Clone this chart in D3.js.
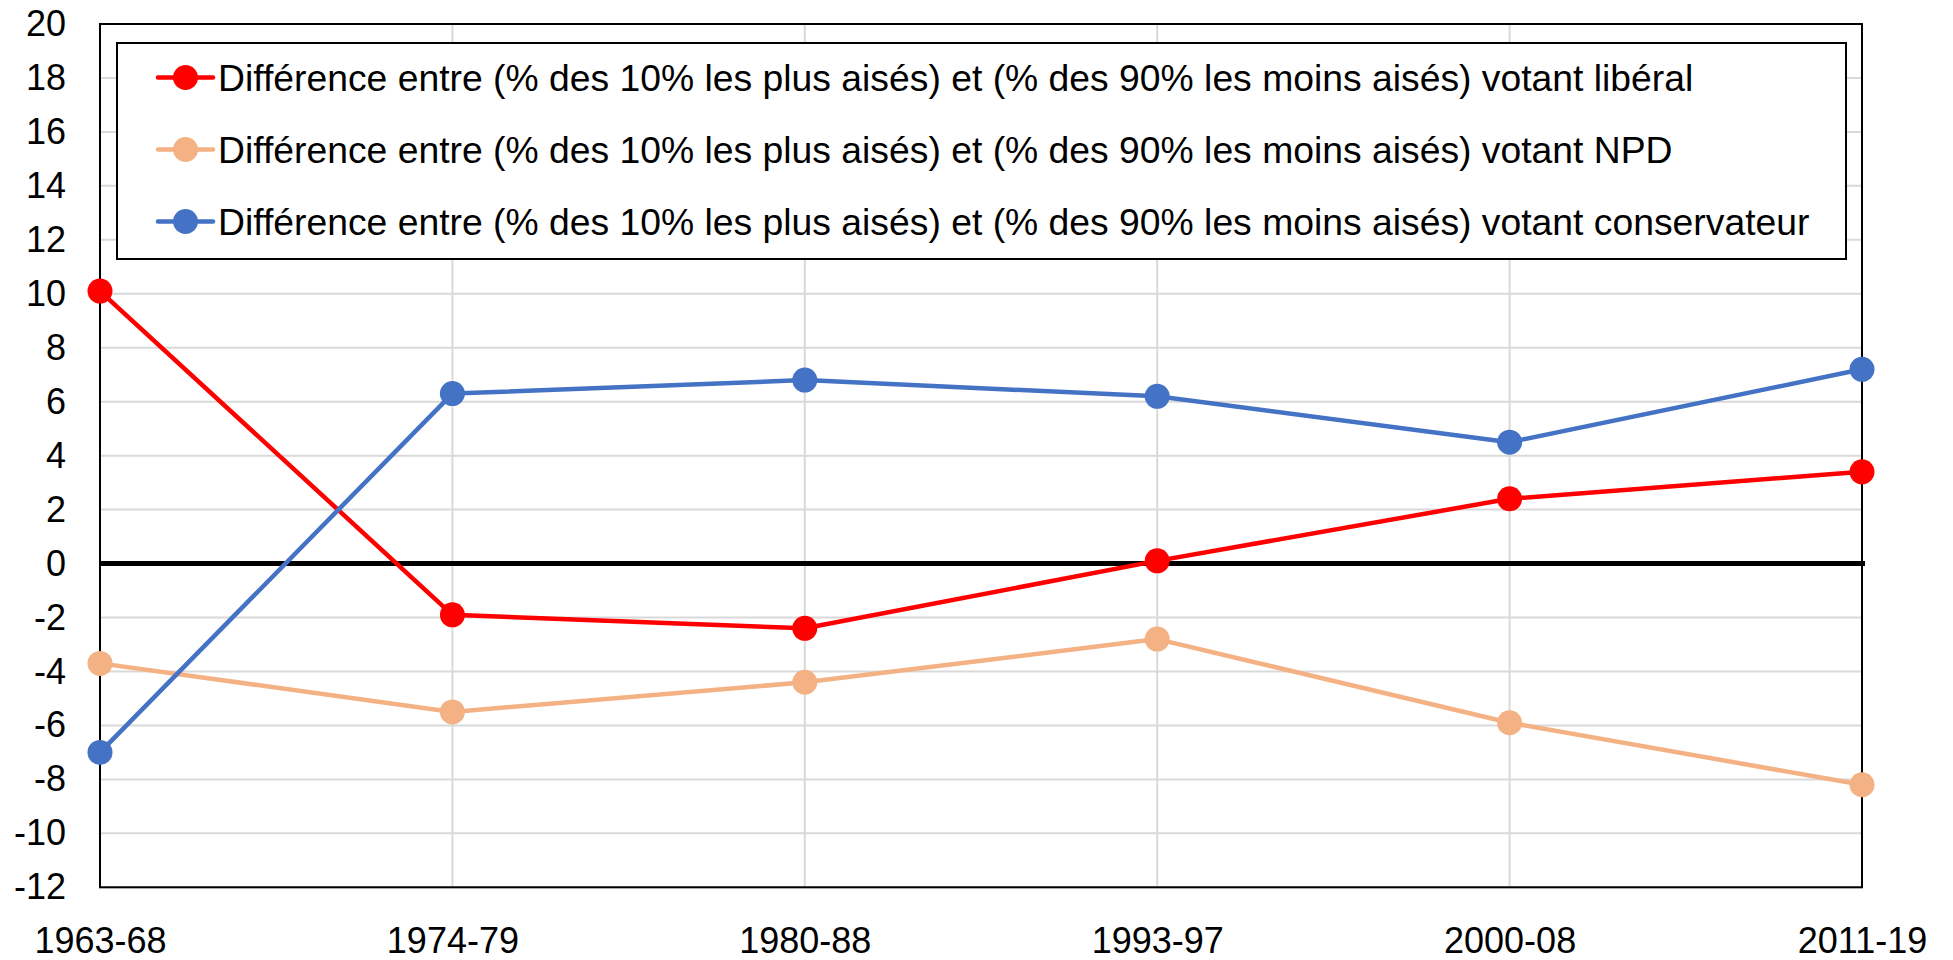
<!DOCTYPE html>
<html>
<head>
<meta charset="utf-8">
<script src="https://cdn.jsdelivr.net/npm/d3@7"></script>
<style>
  html, body { margin: 0; padding: 0; background: #fff; }
  svg { display: block; font-family: Arial, "Liberation Sans", sans-serif; }
</style>
</head>
<body>
<svg id="chart" width="1953" height="960"></svg>
<script>
// ---- data ----
const categories = ["1963-68", "1974-79", "1980-88", "1993-97", "2000-08", "2011-19"];
const liberal = [10.1, -1.9, -2.4, 0.1, 2.4, 3.4];
const npd = [-3.7, -5.5, -4.4, -2.8, -5.9, -8.2];
const conservateur = [-7.0, 6.3, 6.8, 6.2, 4.5, 7.2];
const seriesNames = [
  "Différence entre (% des 10% les plus aisés) et (% des 90% les moins aisés) votant libéral",
  "Différence entre (% des 10% les plus aisés) et (% des 90% les moins aisés) votant NPD",
  "Différence entre (% des 10% les plus aisés) et (% des 90% les moins aisés) votant conservateur"
];
const yTicks = [-12, -10, -8, -6, -4, -2, 0, 2, 4, 6, 8, 10, 12, 14, 16, 18, 20];
const colors = ["#FF0000", "#F4B183", "#4472C4"];

const series = [
  { name: seriesNames[0], values: liberal, color: colors[0] },
  { name: seriesNames[1], values: npd, color: colors[1] },
  { name: seriesNames[2], values: conservateur, color: colors[2] }
];

// ---- layout ----
const plot = { left: 100, right: 1862, top: 24, bottom: 887.3 };
const svg = d3.select("#chart");

const x = d3.scalePoint().domain(categories).range([plot.left, plot.right]).padding(0);
const y = d3.scaleLinear().domain([-12, 20]).range([plot.bottom, plot.top]);

// horizontal gridlines
svg.append("g").selectAll("line").data(yTicks).join("line")
  .attr("x1", plot.left).attr("x2", plot.right)
  .attr("y1", d => y(d)).attr("y2", d => y(d))
  .attr("stroke", "#D9D9D9").attr("stroke-width", 2);

// vertical gridlines
svg.append("g").selectAll("line").data(categories).join("line")
  .attr("x1", d => x(d)).attr("x2", d => x(d))
  .attr("y1", plot.top).attr("y2", plot.bottom)
  .attr("stroke", "#D9D9D9").attr("stroke-width", 2);

// plot frame
svg.append("rect")
  .attr("x", plot.left).attr("y", plot.top)
  .attr("width", plot.right - plot.left).attr("height", plot.bottom - plot.top)
  .attr("fill", "none").attr("stroke", "#000").attr("stroke-width", 2);

// zero line
svg.append("line")
  .attr("x1", plot.left).attr("x2", plot.right + 3)
  .attr("y1", y(0)).attr("y2", y(0))
  .attr("stroke", "#000").attr("stroke-width", 5);

// y axis labels (plain hyphen-minus as in the reference)
const yAxis = d3.axisLeft(y).tickValues(yTicks).tickSize(0).tickPadding(34).tickFormat(d => String(d));
const gy = svg.append("g").attr("transform", `translate(${plot.left},0)`).call(yAxis);
gy.select(".domain").remove();
gy.selectAll("text").attr("font-size", 36).attr("fill", "#000")
  .attr("font-family", "Arial, 'Liberation Sans', sans-serif");

// x axis labels
const xAxis = d3.axisBottom(x).tickSize(0).tickPadding(40);
const gx = svg.append("g").attr("transform", `translate(0,${plot.bottom})`).call(xAxis);
gx.select(".domain").remove();
gx.selectAll("text").attr("font-size", 36).attr("fill", "#000")
  .attr("font-family", "Arial, 'Liberation Sans', sans-serif");

// lines and markers
const line = d3.line().x((d, i) => x(categories[i])).y(d => y(d));
series.forEach(s => {
  svg.append("path").datum(s.values)
    .attr("d", line).attr("fill", "none")
    .attr("stroke", s.color).attr("stroke-width", 4.5)
    .attr("stroke-linejoin", "round");
  svg.append("g").selectAll("circle").data(s.values).join("circle")
    .attr("cx", (d, i) => x(categories[i])).attr("cy", d => y(d))
    .attr("r", 12.5).attr("fill", s.color);
});

// legend
const legend = { x: 117, y: 43, w: 1729, h: 216 };
svg.append("rect")
  .attr("x", legend.x).attr("y", legend.y).attr("width", legend.w).attr("height", legend.h)
  .attr("fill", "#fff").attr("stroke", "#000").attr("stroke-width", 2);
const rowY = [77.5, 149.5, 221.5];
series.forEach((s, i) => {
  const g = svg.append("g");
  g.append("line").attr("x1", 158).attr("x2", 213).attr("y1", rowY[i]).attr("y2", rowY[i])
    .attr("stroke", s.color).attr("stroke-width", 4.5).attr("stroke-linecap", "round");
  g.append("circle").attr("cx", 185.5).attr("cy", rowY[i]).attr("r", 12.5).attr("fill", s.color);
  g.append("text").attr("x", 218).attr("y", rowY[i] + 13)
    .attr("font-size", 37.3).attr("fill", "#000").text(s.name);
});
</script>
</body>
</html>
